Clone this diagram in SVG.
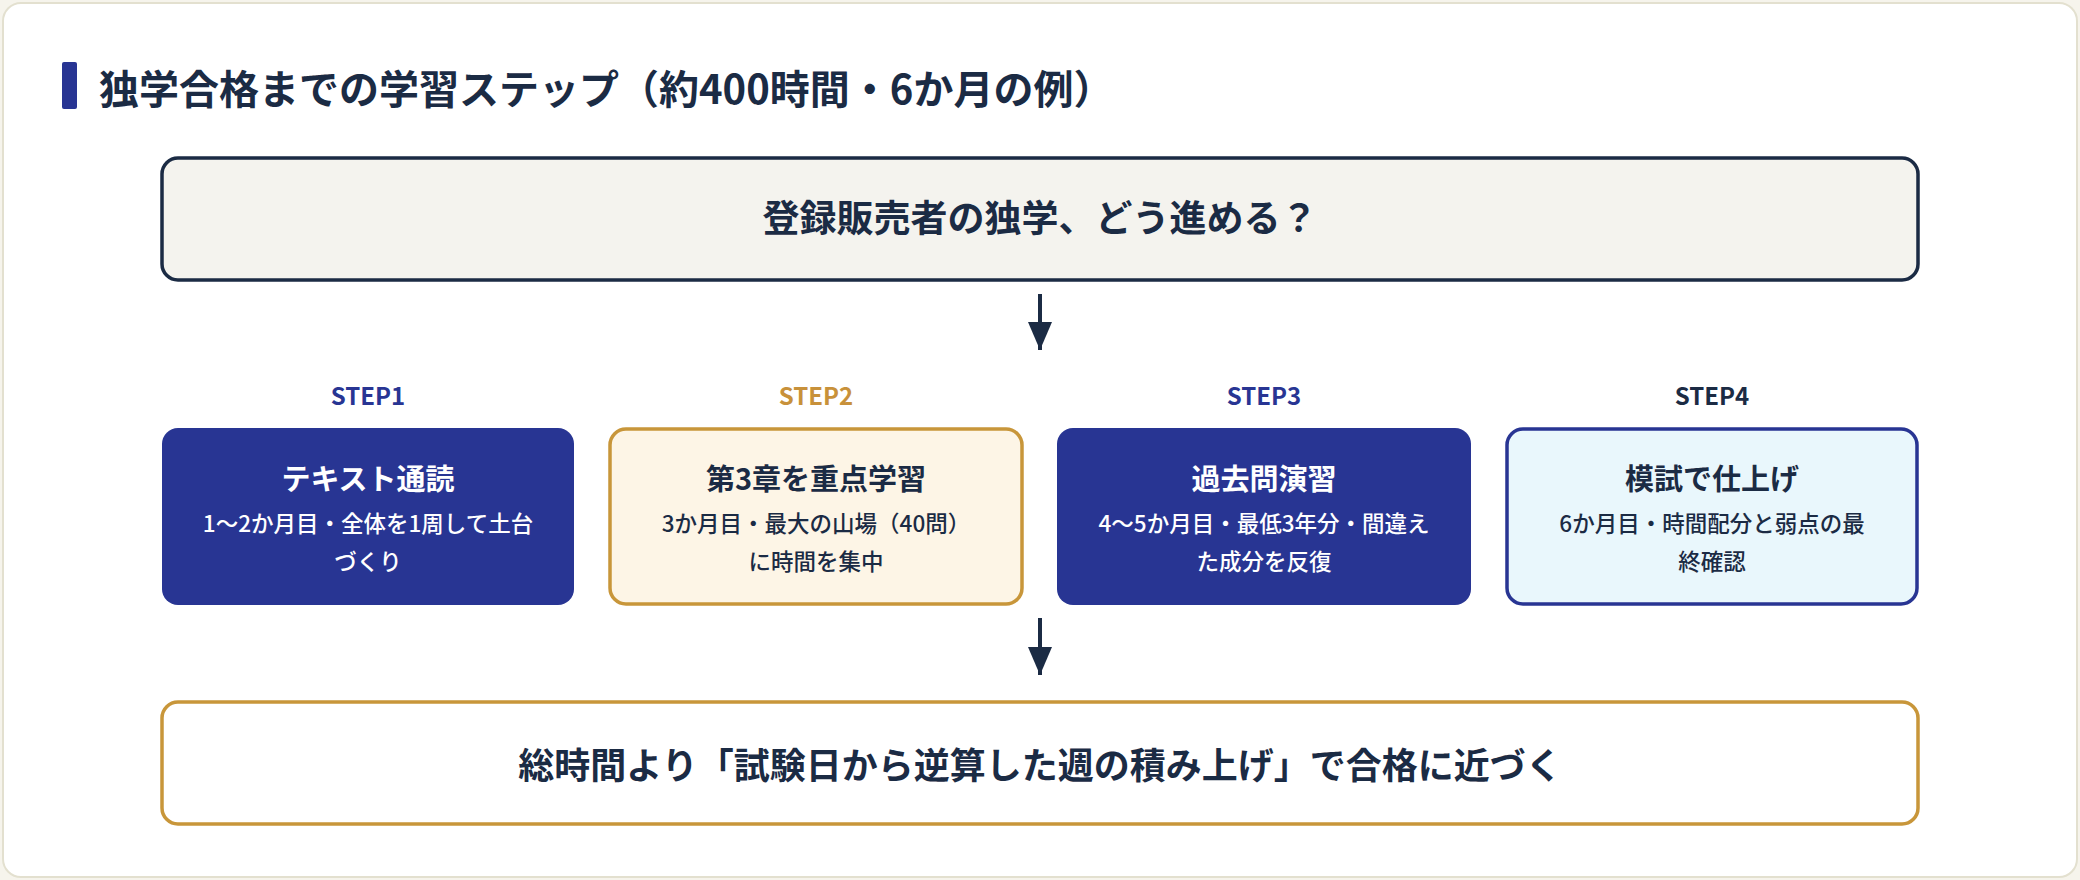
<svg xmlns="http://www.w3.org/2000/svg" width="2080" height="880" viewBox="0 0 2080 880">
<style>
text{font-family:"Noto Sans CJK JP","Noto Sans",sans-serif;font-weight:700;text-anchor:middle}
.d{font-size:22.5px;font-weight:500}
.t{font-size:29px}
.s{font-size:24px}
.w{fill:#fff}
.k{fill:#1b2b44}
</style>
<defs><marker id="a" viewBox="0 0 10 10" refX="9" refY="5" markerWidth="10" markerHeight="10" markerUnits="userSpaceOnUse"><path d="M0,0L10,5L0,10z" fill="#1b2b44"/></marker>
<marker id="ah" viewBox="0 0 28 24" refX="28" refY="12" markerWidth="28" markerHeight="24" orient="auto" markerUnits="userSpaceOnUse"><path d="M0,0L28,12L0,24z" fill="#1b2b44"/></marker></defs>
<rect x="0" y="0" width="2080" height="880" fill="#f6f4ec"/>
<rect x="3" y="3" width="2074" height="874" rx="18" fill="#fff" stroke="#e3e0cf" stroke-width="2"/>
<rect x="62" y="62" width="15" height="47" rx="2" fill="#283593"/>
<text x="99" y="104" style="text-anchor:start;font-size:40px" class="k">独学合格までの学習ステップ（約400時間・6か月の例）</text>
<g id="top"><rect x="162" y="158" width="1756" height="122" rx="16" fill="#f4f3ee" stroke="#1b2b44" stroke-width="3.5"/>
<text x="1040" y="232" style="font-size:37px" class="k">登録販売者の独学、どう進める？</text></g>
<g id="step1"><text x="368" y="405" class="s" fill="#283593">STEP1</text>
<rect x="162" y="428" width="412" height="177" rx="16" fill="#283593"/>
<text x="368" y="490" class="t w">テキスト通読</text>
<text x="368" y="532" class="d w">1〜2か月目・全体を1周して土台</text>
<text x="368" y="570" class="d w">づくり</text></g>
<g id="step2"><text x="816" y="405" class="s" fill="#c8913a">STEP2</text>
<rect x="610" y="429" width="412" height="175" rx="16" fill="#fdf5e6" stroke="#c8963a" stroke-width="3.5"/>
<text x="816" y="490" class="t k">第3章を重点学習</text>
<text x="816" y="532" class="d k">3か月目・最大の山場（40問）</text>
<text x="816" y="570" class="d k">に時間を集中</text></g>
<g id="step3"><text x="1264" y="405" class="s" fill="#283593">STEP3</text>
<rect x="1057" y="428" width="414" height="177" rx="16" fill="#283593"/>
<text x="1264" y="490" class="t w">過去問演習</text>
<text x="1264" y="532" class="d w">4〜5か月目・最低3年分・間違え</text>
<text x="1264" y="570" class="d w">た成分を反復</text></g>
<g id="step4"><text x="1712" y="405" class="s k">STEP4</text>
<rect x="1507" y="429" width="410" height="175" rx="16" fill="#e9f7fc" stroke="#283593" stroke-width="3.5"/>
<text x="1712" y="490" class="t k">模試で仕上げ</text>
<text x="1712" y="532" class="d k">6か月目・時間配分と弱点の最</text>
<text x="1712" y="570" class="d k">終確認</text></g>
<g id="bottom"><rect x="162" y="702" width="1756" height="122" rx="16" fill="#fff" stroke="#c8963a" stroke-width="3.5"/>
<text x="1040" y="779" style="font-size:36px" class="k">総時間より「試験日から逆算した週の積み上げ」で合格に近づく</text></g>
<g id="connectors" stroke="#1b2b44" stroke-width="4" fill="none">
<line x1="1040" y1="294" x2="1040" y2="350" marker-end="url(#ah)"/>
<line x1="1040" y1="618" x2="1040" y2="675" marker-end="url(#ah)"/>
</g>
</svg>
